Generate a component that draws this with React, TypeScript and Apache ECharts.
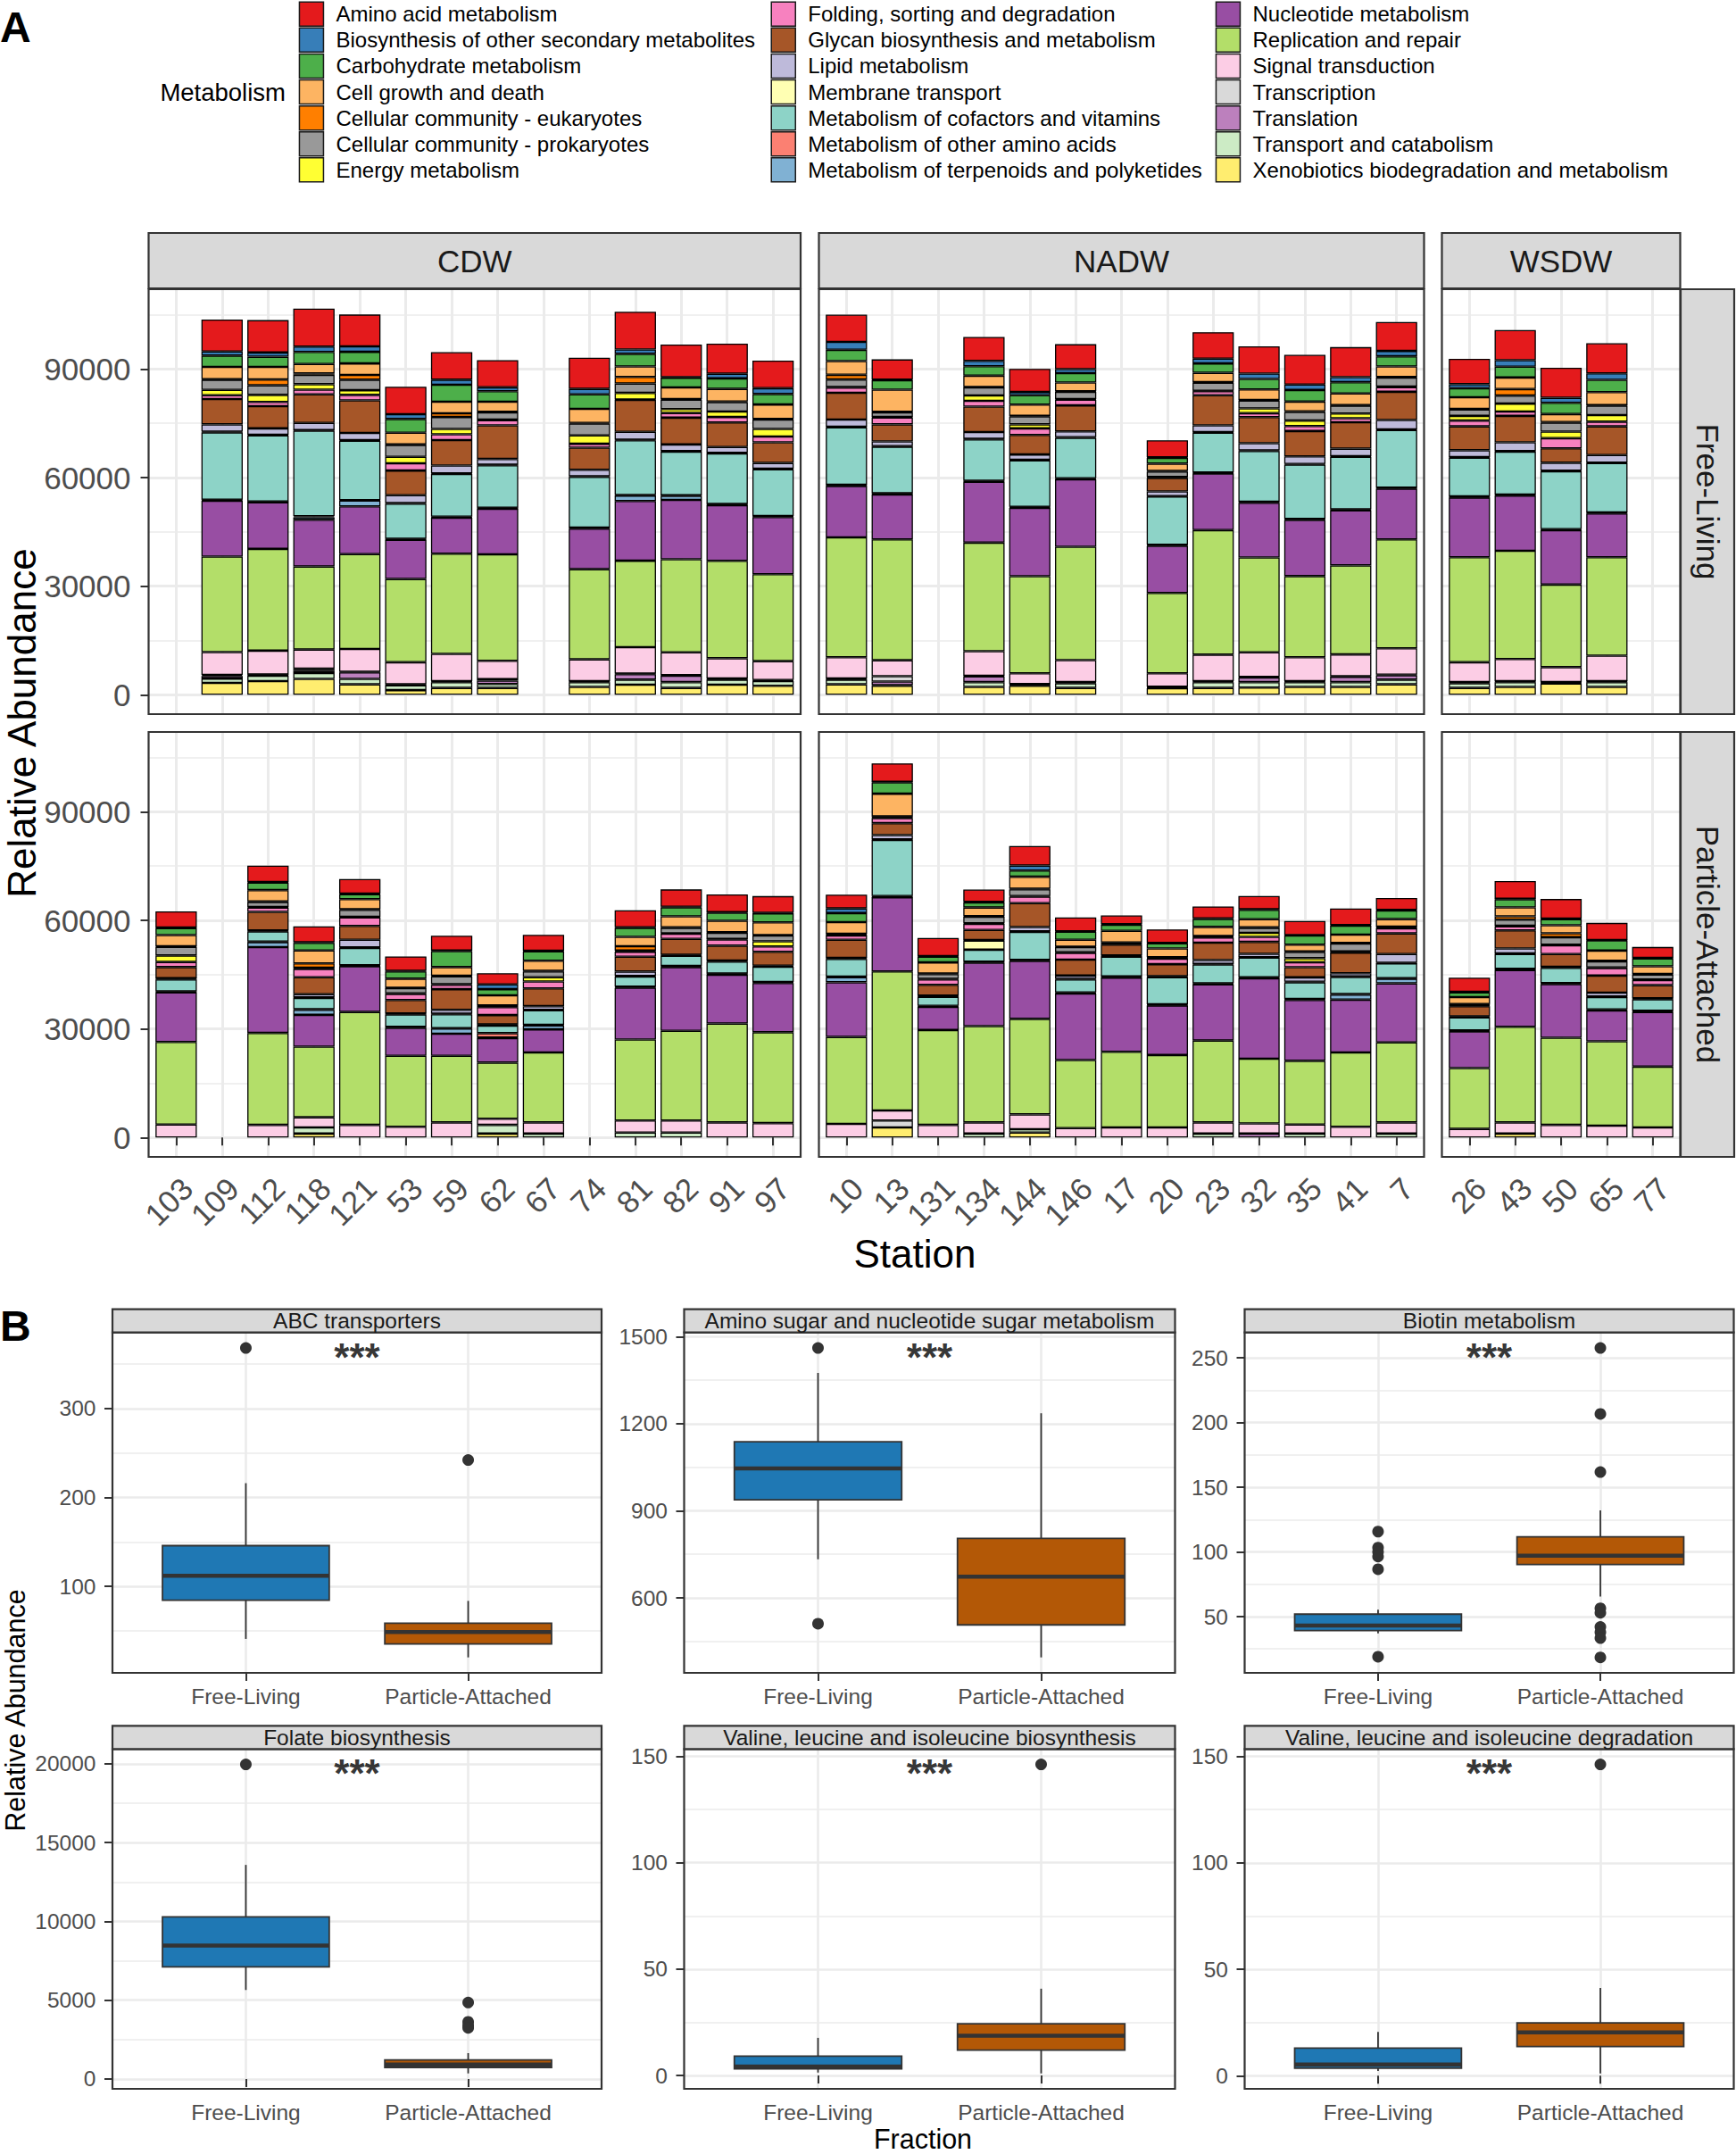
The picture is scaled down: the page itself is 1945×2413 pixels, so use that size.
import React, { useEffect, useRef } from 'react';
import * as echarts from 'echarts';

const FONT = '"Liberation Sans", Arial, Helvetica, sans-serif';
const W = 1945;
const H = 2413;

// ---------------- Panel A data ----------------
const METABOLISM = [
  'Amino acid metabolism',
  'Biosynthesis of other secondary metabolites',
  'Carbohydrate metabolism',
  'Cell growth and death',
  'Cellular community - eukaryotes',
  'Cellular community - prokaryotes',
  'Energy metabolism',
  'Folding, sorting and degradation',
  'Glycan biosynthesis and metabolism',
  'Lipid metabolism',
  'Membrane transport',
  'Metabolism of cofactors and vitamins',
  'Metabolism of other amino acids',
  'Metabolism of terpenoids and polyketides',
  'Nucleotide metabolism',
  'Replication and repair',
  'Signal transduction',
  'Transcription',
  'Translation',
  'Transport and catabolism',
  'Xenobiotics biodegradation and metabolism',
];
const METABOLISM_COLORS = [
  '#E41A1C', '#377EB8', '#4DAF4A', '#FDB462', '#FF7F00', '#999999', '#FFFF33',
  '#F781BF', '#A65628', '#BEBADA', '#FFFFB3', '#8DD3C7', '#FB8072', '#80B1D3',
  '#984EA3', '#B3DE69', '#FCCDE5', '#D9D9D9', '#BC80BD', '#CCEBC5', '#FFED6F',
];

const WATER_MASSES = ['CDW', 'NADW', 'WSDW'];
const FRACTIONS = ['Free-Living', 'Particle-Attached'];
const STATIONS_CDW = ['103', '109', '112', '118', '121', '53', '59', '62', '67', '74', '81', '82', '91', '97'];
const STATIONS_NADW = ['10', '13', '131', '134', '144', '146', '17', '20', '23', '32', '35', '41', '7'];
const STATIONS_WSDW = ['26', '43', '50', '65', '77'];
const A_Y_TICKS = [0, 30000, 60000, 90000];
const A_Y_MINOR = [15000, 45000, 75000, 105000];

// values per station in METABOLISM order
const FL_CDW: [string, number[]][] = [
  ['109', [8800, 1150, 3100, 3400, 150, 2800, 1500, 1050, 7000, 2000, 200, 18600, 100, 200, 15400, 26400, 6300, 300, 700, 1200, 3300]],
  ['112', [8950, 1150, 2800, 3500, 1600, 2650, 1950, 1150, 6150, 1750, 200, 18250, 100, 100, 12900, 28100, 6600, 100, 200, 1500, 3800]],
  ['118', [10500, 1500, 3300, 2600, 400, 2600, 1500, 1300, 7900, 2000, 150, 23600, 300, 700, 12900, 22950, 5300, 600, 600, 1600, 4400]],
  ['121', [8800, 1500, 3200, 3200, 1300, 2900, 1300, 1500, 9000, 2000, 150, 16400, 150, 1600, 13200, 26200, 6300, 150, 1800, 1500, 2900]],
  ['53', [7600, 1300, 3800, 3200, 150, 3300, 1800, 2000, 6800, 2200, 150, 9700, 150, 150, 10800, 23000, 6100, 150, 150, 1300, 1300]],
  ['59', [7600, 1400, 4700, 3200, 1000, 3300, 1500, 1600, 7000, 2200, 150, 11800, 150, 150, 9900, 27700, 7500, 150, 150, 1600, 1900]],
  ['62', [7500, 1100, 2900, 2800, 150, 2000, 150, 1400, 9300, 1600, 150, 11700, 150, 150, 12600, 29400, 5100, 400, 900, 1100, 1900]],
  ['74', [8600, 1500, 4000, 3900, 150, 3300, 2300, 1100, 6100, 1800, 150, 14000, 150, 150, 11200, 24900, 6000, 150, 150, 1300, 2200]],
  ['81', [10400, 1200, 3500, 2900, 1800, 2600, 1800, 150, 8800, 2200, 150, 15100, 150, 1500, 16500, 23900, 7300, 150, 1500, 1400, 2800]],
  ['82', [9000, 150, 2700, 3200, 150, 2600, 1100, 1300, 7400, 1800, 150, 12100, 150, 1100, 16400, 25700, 6300, 150, 1800, 1600, 1900]],
  ['91', [8300, 1300, 2900, 3500, 150, 2600, 1500, 1500, 6800, 1600, 150, 14000, 150, 150, 15400, 26900, 5600, 150, 150, 1400, 2800]],
  ['97', [7600, 1600, 2900, 4000, 150, 2600, 2100, 1600, 5700, 1600, 150, 12900, 150, 150, 15800, 24000, 5200, 150, 150, 1300, 2500]],
];
const FL_NADW: [string, number[]][] = [
  ['10', [7500, 2200, 3100, 3800, 1300, 2100, 150, 1400, 7400, 2000, 150, 15900, 150, 150, 14200, 33100, 5900, 150, 150, 1300, 2900]],
  ['13', [5600, 150, 2600, 6100, 150, 1300, 150, 1900, 4700, 1300, 150, 12900, 150, 150, 12400, 33400, 4400, 1500, 1000, 150, 2500]],
  ['134', [6600, 1500, 2600, 3100, 150, 2200, 1500, 1600, 7000, 1900, 150, 11400, 150, 150, 16800, 30000, 6800, 150, 1600, 1300, 2200]],
  ['144', [6400, 900, 2600, 3100, 150, 2200, 1100, 1800, 5400, 1500, 150, 12800, 150, 150, 18900, 26800, 3000, 150, 150, 150, 2500]],
  ['146', [6900, 1100, 2600, 2400, 150, 2000, 150, 1600, 7200, 1600, 150, 11200, 150, 150, 18600, 31300, 6100, 150, 150, 1300, 1900]],
  ['20', [4700, 150, 1600, 2000, 150, 1500, 150, 150, 3700, 1300, 150, 13300, 150, 150, 13000, 22200, 3700, 150, 150, 150, 1800]],
  ['23', [7300, 1300, 2600, 2600, 150, 2200, 150, 1100, 8300, 1900, 150, 11000, 150, 150, 15600, 34400, 7300, 150, 150, 1600, 1900]],
  ['32', [7500, 1500, 2900, 2900, 150, 2200, 1300, 1100, 7200, 2000, 150, 14000, 150, 150, 15100, 26200, 6800, 150, 1300, 1500, 2000]],
  ['35', [8200, 1500, 3200, 2700, 150, 2400, 1500, 1400, 7000, 2100, 150, 15000, 150, 150, 15500, 22400, 6600, 150, 150, 1300, 2200]],
  ['41', [8300, 1400, 3100, 3200, 150, 2200, 1300, 1100, 7300, 2100, 150, 14500, 150, 150, 15200, 24600, 6000, 150, 1500, 1300, 2200]],
  ['7', [8000, 1500, 2800, 2900, 150, 2500, 150, 1300, 7800, 2600, 150, 15900, 150, 150, 14000, 30100, 7300, 150, 1200, 1300, 2900]],
];
const FL_WSDW: [string, number[]][] = [
  ['26', [7000, 1100, 2500, 3200, 150, 1800, 1300, 1600, 6600, 1900, 150, 10700, 150, 150, 16500, 29000, 5500, 150, 150, 1300, 1900]],
  ['43', [8300, 1800, 3000, 3200, 1800, 2200, 2200, 1200, 7300, 2400, 150, 11900, 150, 150, 15200, 29900, 6100, 150, 150, 1300, 2200]],
  ['50', [8300, 1400, 3100, 2200, 150, 2500, 1800, 2800, 4000, 2200, 150, 16000, 150, 150, 15000, 22800, 4100, 150, 150, 150, 3100]],
  ['65', [8300, 1800, 3400, 3600, 150, 2600, 1800, 1300, 7900, 2100, 150, 13600, 150, 150, 12100, 27200, 7000, 150, 150, 1300, 2200]],
];
const PA_CDW: [string, number[]][] = [
  ['103', [4500, 150, 1900, 3100, 150, 2400, 1800, 1400, 3100, 150, 150, 3300, 150, 150, 13700, 22800, 3600, 0, 0, 0, 0]],
  ['112', [4500, 150, 2100, 3100, 150, 1400, 150, 1200, 5100, 150, 150, 2800, 150, 1400, 23700, 25400, 3500, 0, 0, 0, 0]],
  ['118', [4400, 150, 2100, 3600, 1200, 150, 150, 2300, 4700, 900, 150, 3100, 150, 1400, 8800, 19500, 2800, 0, 0, 1700, 1100]],
  ['121', [4000, 150, 1400, 2800, 150, 1900, 150, 2400, 3800, 2100, 150, 4800, 150, 150, 12600, 31200, 3500, 0, 0, 0, 0]],
  ['53', [4000, 150, 2000, 2500, 150, 1400, 150, 1700, 3700, 150, 150, 3400, 150, 150, 7700, 19600, 3000, 0, 0, 0, 0]],
  ['59', [4100, 150, 4400, 2400, 150, 2200, 150, 1200, 5700, 1100, 150, 3800, 150, 1400, 6100, 18400, 4200, 0, 0, 0, 0]],
  ['62', [3100, 1300, 1700, 2800, 150, 150, 150, 2200, 2600, 150, 150, 2100, 1200, 150, 6800, 15500, 1700, 0, 0, 2400, 1100]],
  ['67', [4400, 150, 2600, 2800, 150, 1600, 1200, 1900, 4900, 1000, 150, 4000, 150, 1100, 6400, 19300, 3100, 0, 0, 1100, 0]],
  ['81', [4700, 150, 2500, 2600, 1200, 150, 150, 1400, 4100, 1200, 150, 2800, 150, 150, 14300, 22400, 3300, 0, 0, 1400, 0]],
  ['82', [4800, 150, 2500, 3000, 150, 1500, 150, 1400, 4400, 150, 150, 2800, 150, 150, 17600, 24800, 3300, 0, 0, 1400, 0]],
  ['91', [4900, 150, 2200, 3200, 150, 1700, 150, 1700, 4100, 150, 150, 3300, 150, 150, 13500, 27300, 4200, 0, 0, 0, 0]],
  ['97', [4600, 150, 2500, 3500, 150, 1600, 1400, 1500, 3800, 150, 150, 4200, 150, 150, 13600, 25100, 4000, 0, 0, 0, 0]],
];
const PA_NADW: [string, number[]][] = [
  ['10', [3800, 1300, 2500, 3200, 150, 150, 150, 1200, 5000, 150, 150, 4900, 150, 1400, 15100, 24000, 3800, 0, 0, 0, 0]],
  ['13', [5100, 150, 3100, 6300, 150, 150, 150, 1400, 3300, 1200, 150, 15500, 150, 150, 20500, 38400, 2800, 1900, 0, 0, 2800]],
  ['131', [5000, 150, 1600, 3100, 150, 1300, 150, 1500, 3000, 150, 150, 2500, 150, 150, 6400, 26200, 3500, 0, 0, 0, 0]],
  ['134', [3400, 150, 1400, 2400, 150, 1800, 150, 1700, 2800, 150, 2500, 3300, 150, 150, 17500, 26600, 3100, 0, 0, 1100, 0]],
  ['144', [5400, 1400, 1700, 3300, 150, 1900, 150, 1800, 6600, 1200, 150, 7700, 150, 150, 16000, 26400, 4100, 0, 0, 900, 1400]],
  ['146', [3800, 150, 2200, 1900, 150, 1400, 150, 1900, 4400, 900, 150, 3600, 150, 150, 18400, 18800, 2600, 0, 0, 0, 0]],
  ['17', [2400, 150, 1700, 3200, 150, 150, 150, 150, 3000, 150, 150, 5500, 150, 150, 20500, 20900, 2800, 0, 0, 0, 0]],
  ['20', [3700, 150, 1400, 2400, 150, 150, 150, 1500, 3300, 150, 150, 7500, 150, 150, 13700, 20000, 2800, 0, 0, 0, 0]],
  ['23', [3300, 150, 2200, 2500, 150, 150, 150, 1400, 4800, 1100, 150, 5200, 150, 150, 15500, 22600, 3100, 0, 0, 1100, 0]],
  ['32', [3700, 150, 2600, 2200, 150, 1400, 1100, 1400, 3300, 900, 150, 5400, 150, 150, 22200, 17900, 2800, 0, 1100, 0, 0]],
  ['35', [3900, 150, 2500, 1900, 150, 1700, 1100, 1400, 2800, 1200, 150, 4600, 150, 150, 16800, 17600, 2500, 0, 0, 1100, 0]],
  ['41', [4600, 150, 2500, 2300, 150, 2200, 150, 150, 5700, 900, 150, 4700, 150, 1400, 14600, 20500, 3000, 0, 0, 0, 0]],
  ['7', [3300, 150, 2400, 2100, 150, 150, 150, 1400, 5700, 2400, 150, 4100, 150, 1300, 16300, 22100, 3100, 0, 0, 1100, 0]],
];
const PA_WSDW: [string, number[]][] = [
  ['26', [3900, 150, 1300, 1900, 150, 150, 150, 150, 2800, 150, 150, 3600, 150, 150, 10100, 16800, 2400, 0, 0, 0, 0]],
  ['43', [4900, 150, 2200, 2500, 900, 1700, 150, 1100, 5000, 1400, 150, 4100, 150, 150, 15700, 26400, 3100, 0, 0, 0, 1100]],
  ['50', [5400, 150, 1700, 2200, 1100, 2100, 150, 2400, 3500, 150, 150, 4200, 150, 150, 14800, 24100, 3500, 0, 0, 0, 0]],
  ['65', [4700, 150, 2800, 2800, 150, 1700, 150, 2100, 4700, 1100, 150, 3400, 150, 150, 8500, 23300, 3300, 0, 0, 0, 0]],
  ['77', [3000, 150, 2200, 2100, 150, 1400, 150, 1400, 3600, 150, 150, 3200, 150, 150, 15100, 16800, 2800, 0, 0, 0, 0]],
];

// ---------------- Panel B data ----------------
const BOX_FACETS = [
  'ABC transporters',
  'Amino sugar and nucleotide sugar metabolism',
  'Biotin metabolism',
  'Folate biosynthesis',
  'Valine, leucine and isoleucine biosynthesis',
  'Valine, leucine and isoleucine degradation',
];
// [lower whisker, Q1, median, Q3, upper whisker]
const BOX_FL = [
  [41, 84.4, 112, 145.8, 216],
  [733, 938, 1046, 1138, 1375],
  [37, 39.2, 43.1, 51.9, 55.3],
  [5650, 7110, 8470, 10283, 13586],
  [1.4, 3.1, 4.2, 9.1, 17.7],
  [2.2, 3.6, 5.3, 13, 20.6],
];
const BOX_PA = [
  [20.2, 35.3, 48.6, 58.6, 83.7],
  [395, 507, 673, 805, 1236],
  [65.6, 90.2, 97, 111.7, 132],
  [357, 737, 924, 1207, 1643],
  [1, 11.9, 18.7, 24.3, 40.8],
  [1.1, 13.7, 20.4, 24.8, 41.2],
];
const OUT_FL = [[368], [1461, 511], [115.7, 103.3, 100, 96.4, 86.6, 19], [19960], [], []];
const OUT_PA = [[242], [], [257.6, 206.6, 161.7, 56.4, 53, 42, 38, 33.4, 18.5], [4855, 3626, 3400, 3247], [146.2], [146.2]];
const BOX_TICKS = [[100, 200, 300], [600, 900, 1200, 1500], [50, 100, 150, 200, 250], [0, 5000, 10000, 15000, 20000], [0, 50, 100, 150], [0, 50, 100, 150]];
const BOX_MINOR = [[50, 150, 250, 350], [450, 750, 1050, 1350], [25, 75, 125, 175, 225], [2500, 7500, 12500, 17500], [25, 75, 125], [25, 75, 125]];
const SIGNIF = ['***', '***', '***', '***', '***', '***'];
const FRACTION_COLORS = ['#1F78B4', '#B35806'];

// ---------------- layout ----------------
const A_COL_X = [[166.5, 897], [917.5, 1595.5], [1615.5, 1882.5]];
const A_ROW_Y = [[324, 800], [820, 1296]];
const A_STRIP_Y = [261, 323];
const A_RSTRIP_X = [1883, 1943];
const B_COL_X = [[126, 674], [766.5, 1316.5], [1394.5, 1942.5]];
const B_ROW_Y = [[1492.7, 1874], [1959.3, 2340]];
const B_STRIP_H = 26;
const GRID_COLOR = '#EBEBEB';
const DARK = '#333333';
const AXIS_TEXT = '#4D4D4D';
const plain = (v: number) => String(v);

function gridLineSeries(g: number, xs: number[], major: number[], minor: number[], wMajor: number, wMinor: number) {
  const ls = (w: number) => ({ color: GRID_COLOR, width: w, type: 'solid' as const });
  return {
    type: 'line',
    xAxisIndex: g,
    yAxisIndex: g,
    data: [[xs[0], major[0]]],
    symbol: 'none',
    lineStyle: { opacity: 0 },
    silent: true,
    z: 0,
    markLine: {
      silent: true,
      symbol: ['none', 'none'],
      z: 0,
      animation: false,
      label: { show: false },
      emphasis: { disabled: true },
      data: [
        ...xs.map((x) => ({ xAxis: x, lineStyle: ls(wMajor) })),
        ...major.map((y) => ({ yAxis: y, lineStyle: ls(wMajor) })),
        ...minor.map((y) => ({ yAxis: y, lineStyle: ls(wMinor) })),
      ],
    },
  };
}

function buildOption() {
  const grid: any[] = [];
  const xAxis: any[] = [];
  const yAxis: any[] = [];
  const series: any[] = [];
  const graphic: any[] = [];

  const rect = (x: number, y: number, w: number, h: number, fill: string, stroke: string, lw: number) => ({
    type: 'rect', silent: true, z: 100,
    shape: { x, y, width: w, height: h },
    style: { fill, stroke, lineWidth: lw },
  });
  const txt = (x: number, y: number, text: string, size: number, o: any = {}) => ({
    type: 'text', silent: true, z: 101, x, y, rotation: o.rotation || 0,
    style: {
      text, fontSize: size, fontFamily: FONT, fontWeight: o.weight || 'normal',
      fill: o.fill || '#000', align: o.align || 'center', verticalAlign: 'middle',
      textAlign: o.align || 'center', textVerticalAlign: 'middle',
    },
  });

  // ---------- Panel A ----------
  const A_PANELS = [[FL_CDW, FL_NADW, FL_WSDW], [PA_CDW, PA_NADW, PA_WSDW]];
  const STATIONS = [STATIONS_CDW, STATIONS_NADW, STATIONS_WSDW];
  let maxTotal = 0;
  A_PANELS.forEach((row) => row.forEach((rows) => rows.forEach(([, v]) => {
    maxTotal = Math.max(maxTotal, v.reduce((a, b) => a + b, 0));
  })));
  const aMin = -0.05 * maxTotal;
  const aMax = 1.05 * maxTotal;

  for (let r = 0; r < 2; r++) {
    for (let c = 0; c < 3; c++) {
      const [l, rr] = A_COL_X[c];
      const [t, b] = A_ROW_Y[r];
      const stations = STATIONS[c];
      const n = stations.length;
      const unit = (rr - l) / (n + 0.2);
      const pos = stations.map((_, i) => i + 1);

      // background grid: full panel, carries axes + grid lines
      const gb = grid.length;
      grid.push({ left: l, top: t, width: rr - l, height: b - t, containLabel: false });
      xAxis.push({
        type: 'value', gridIndex: gb, min: 0.4, max: n + 0.6,
        axisLine: { show: false }, splitLine: { show: false },
        axisTick: { show: r === 1, customValues: pos, length: 9, lineStyle: { color: DARK, width: 2 } },
        axisLabel: {
          show: r === 1, customValues: pos,
          formatter: (v: number) => stations[Math.round(v) - 1] ?? '',
          rotate: 45, align: 'right', verticalAlign: 'top', margin: 17,
          fontSize: 35, color: AXIS_TEXT, fontFamily: FONT,
        },
      });
      yAxis.push({
        type: 'value', gridIndex: gb, min: aMin, max: aMax,
        axisLine: { show: false }, splitLine: { show: false },
        axisTick: { show: c === 0, customValues: A_Y_TICKS, length: 9, lineStyle: { color: DARK, width: 2 } },
        axisLabel: {
          show: c === 0, customValues: A_Y_TICKS, margin: 20, formatter: plain,
          fontSize: 35, color: AXIS_TEXT, fontFamily: FONT,
        },
      });
      series.push(gridLineSeries(gb, pos, A_Y_TICKS, A_Y_MINOR, 3, 1.6));

      // data grid: category bands (ggplot's 0.6-unit discrete padding)
      const gd = grid.length;
      grid.push({ left: l + 0.1 * unit, top: t, width: n * unit, height: b - t, containLabel: false });
      xAxis.push({ type: 'category', gridIndex: gd, data: stations, show: false, boundaryGap: true });
      yAxis.push({ type: 'value', gridIndex: gd, min: aMin, max: aMax, show: false, splitLine: { show: false } });
      const rows = A_PANELS[r][c];
      const byStation = new Map(rows);
      for (let k = METABOLISM.length - 1; k >= 0; k--) {
        series.push({
          type: 'bar', name: METABOLISM[k], xAxisIndex: gd, yAxisIndex: gd,
          stack: 'A' + gd, barWidth: '90%', z: 2,
          itemStyle: { color: METABOLISM_COLORS[k], borderColor: '#000', borderWidth: 1.3 },
          emphasis: { disabled: true },
          data: stations.map((st) => {
            const v = byStation.get(st);
            return v && v[k] > 0 ? v[k] : '-';
          }),
        });
      }
      graphic.push(rect(l, t, rr - l, b - t, 'none', DARK, 2.2));
    }
  }
  // strips A
  WATER_MASSES.forEach((wm, c) => {
    const [l, rr] = A_COL_X[c];
    graphic.push(rect(l, A_STRIP_Y[0], rr - l, A_STRIP_Y[1] - A_STRIP_Y[0], '#D9D9D9', DARK, 2.2));
    graphic.push(txt((l + rr) / 2, (A_STRIP_Y[0] + A_STRIP_Y[1]) / 2, wm, 35, { fill: '#1A1A1A' }));
  });
  FRACTIONS.forEach((fr, r) => {
    const [t, b] = A_ROW_Y[r];
    graphic.push(rect(A_RSTRIP_X[0], t, A_RSTRIP_X[1] - A_RSTRIP_X[0], b - t, '#D9D9D9', DARK, 2.2));
    graphic.push(txt((A_RSTRIP_X[0] + A_RSTRIP_X[1]) / 2, (t + b) / 2, fr, 35, { fill: '#1A1A1A', rotation: -Math.PI / 2 }));
  });
  graphic.push(txt(1025, 1404, 'Station', 44));
  graphic.push(txt(24, 810, 'Relative Abundance', 44, { rotation: Math.PI / 2 }));
  graphic.push(txt(0, 30, 'A', 48, { weight: 'bold', align: 'left' }));
  graphic.push(txt(320, 103, 'Metabolism', 27.5, { align: 'right' }));

  // ---------- Panel B ----------
  BOX_FACETS.forEach((facet, i) => {
    const g = grid.length;
    const r = Math.floor(i / 3);
    const c = i % 3;
    const [l, rr] = B_COL_X[c];
    const [t, b] = B_ROW_Y[r];
    const all = [...BOX_FL[i], ...BOX_PA[i], ...OUT_FL[i], ...OUT_PA[i]];
    const lo = Math.min(...all);
    const hi = Math.max(...all);
    const pad = (hi - lo) * 0.05;
    grid.push({ left: l, top: t, width: rr - l, height: b - t, containLabel: false });
    xAxis.push({
      type: 'value', gridIndex: g, min: 0.4, max: 2.6,
      axisLine: { show: false }, splitLine: { show: false },
      axisTick: { show: true, customValues: [1, 2], length: 9, lineStyle: { color: DARK, width: 2 } },
      axisLabel: {
        show: true, customValues: [1, 2], formatter: (v: number) => FRACTIONS[Math.round(v) - 1] ?? '',
        margin: 14, fontSize: 24.5, color: AXIS_TEXT, fontFamily: FONT,
      },
    });
    yAxis.push({
      type: 'value', gridIndex: g, min: lo - pad, max: hi + pad,
      axisLine: { show: false }, splitLine: { show: false },
      axisTick: { show: true, customValues: BOX_TICKS[i], length: 9, lineStyle: { color: DARK, width: 2 } },
      axisLabel: {
        show: true, customValues: BOX_TICKS[i], margin: 18.5, formatter: plain,
        fontSize: 24.5, color: AXIS_TEXT, fontFamily: FONT,
      },
    });
    series.push(gridLineSeries(g, [1, 2], BOX_TICKS[i], BOX_MINOR[i], 2.6, 1.5));
    series.push({
      type: 'custom', xAxisIndex: g, yAxisIndex: g, z: 3, silent: true,
      encode: { x: 0, y: [1, 2, 3, 4, 5] },
      data: [[1, ...BOX_FL[i], 0], [2, ...BOX_PA[i], 1]],
      renderItem: (params: any, api: any) => {
        const x = api.value(0);
        const pLo = api.coord([x, api.value(1)]);
        const pQ1 = api.coord([x, api.value(2)]);
        const pMd = api.coord([x, api.value(3)]);
        const pQ3 = api.coord([x, api.value(4)]);
        const pHi = api.coord([x, api.value(5)]);
        const w = api.size([0.75, 0])[0];
        const cx = pMd[0];
        const fill = FRACTION_COLORS[api.value(6)];
        const stroke = { stroke: DARK, lineWidth: 1.8 };
        return {
          type: 'group',
          children: [
            { type: 'line', shape: { x1: cx, y1: pHi[1], x2: cx, y2: pQ3[1] }, style: stroke },
            { type: 'line', shape: { x1: cx, y1: pQ1[1], x2: cx, y2: pLo[1] }, style: stroke },
            { type: 'rect', shape: { x: cx - w / 2, y: pQ3[1], width: w, height: pQ1[1] - pQ3[1] }, style: { fill, stroke: DARK, lineWidth: 1.8 } },
            { type: 'line', shape: { x1: cx - w / 2, y1: pMd[1], x2: cx + w / 2, y2: pMd[1] }, style: { stroke: DARK, lineWidth: 4.5 } },
          ],
        };
      },
    });
    series.push({
      type: 'scatter', xAxisIndex: g, yAxisIndex: g, z: 4, silent: true,
      symbolSize: 13, itemStyle: { color: DARK, opacity: 1 },
      data: [...OUT_FL[i].map((v) => [1, v]), ...OUT_PA[i].map((v) => [2, v])],
    });
    series.push({
      type: 'scatter', xAxisIndex: g, yAxisIndex: g, z: 5, silent: true,
      symbolSize: 1, itemStyle: { color: 'rgba(0,0,0,0)' },
      label: { show: true, position: 'inside', formatter: SIGNIF[i], fontSize: 44, fontWeight: 'bold', color: '#000', fontFamily: FONT, offset: [0, 10] },
      data: [[1.5, hi]],
    });
    graphic.push(rect(l, t, rr - l, b - t, 'none', DARK, 2.2));
    graphic.push(rect(l, t - B_STRIP_H, rr - l, B_STRIP_H, '#D9D9D9', DARK, 2.2));
    graphic.push(txt((l + rr) / 2, t - B_STRIP_H / 2, facet, 24.5, { fill: '#1A1A1A' }));
  });
  graphic.push(txt(0, 1485, 'B', 48, { weight: 'bold', align: 'left' }));
  graphic.push(txt(17, 1916, 'Relative Abundance', 30.5, { rotation: Math.PI / 2 }));
  graphic.push(txt(1034, 2396, 'Fraction', 30.5));

  const legendCols = [334.7, 863.5, 1361.7];
  const legend = legendCols.map((left, ci) => ({
    orient: 'vertical', left, top: 1.5, padding: 0,
    data: METABOLISM.slice(ci * 7, ci * 7 + 7),
    icon: 'rect', itemWidth: 27, itemHeight: 27, itemGap: 0.6,
    selectedMode: false,
    itemStyle: { borderColor: '#1A1A1A', borderWidth: 1.5 },
    textStyle: { fontSize: 24, color: '#000', fontFamily: FONT, padding: [0, 0, 0, 9], lineHeight: 27 },
  }));

  return {
    animation: false,
    backgroundColor: '#FFFFFF',
    textStyle: { fontFamily: FONT },
    legend,
    grid,
    xAxis,
    yAxis,
    series,
    graphic: { elements: graphic },
  };
}

export default function App() {
  const ref = useRef<HTMLDivElement>(null);
  useEffect(() => {
    if (!ref.current) return;
    const chart = echarts.init(ref.current, null, { renderer: 'svg', width: W, height: H });
    chart.setOption(buildOption() as any);
    return () => chart.dispose();
  }, []);
  return <div ref={ref} style={{ position: 'absolute', left: 0, top: 0, width: W, height: H }} />;
}
